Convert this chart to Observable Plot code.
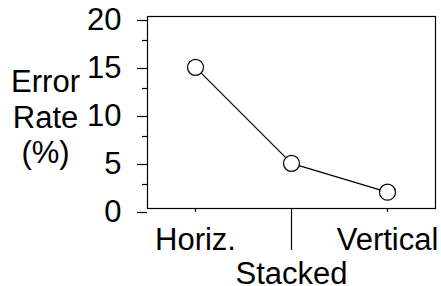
<!DOCTYPE html>
<html>
<head>
<meta charset="utf-8">
<script src="https://cdn.jsdelivr.net/npm/d3@7"></script>
<script src="https://cdn.jsdelivr.net/npm/@observablehq/plot@0.6"></script>
<style>
  html, body { margin: 0; padding: 0; background: white; }
</style>
</head>
<body>
<div id="chart"></div>
<script>
const categories = ["Horiz.", "Stacked", "Vertical"];
const errorRates = [14.7, 4.7, 1.7];
const yTicks = [0, 5, 10, 15, 20];
const yMinorTicks = [2.5, 7.5, 12.5, 17.5];
const yLabel = "Error\nRate\n(%)";

const data = categories.map((c, i) => ({category: c, rate: errorRates[i]}));
const FONT = "Liberation Sans, Arial, Helvetica, sans-serif";
const FS = 31;

const chart = Plot.plot({
  width: 441,
  height: 286,
  marginLeft: 147,
  marginRight: 6,
  marginTop: 16,
  marginBottom: 78,
  style: {fontFamily: FONT, fontSize: FS + "px", color: "black", background: "white"},
  x: {type: "point", domain: categories, padding: 0.5},
  y: {domain: [0, 20]},
  marks: [
    Plot.frame({stroke: "black", strokeWidth: 1.2}),
    Plot.axisY({ticks: yTicks, tickSize: 10, tickPadding: 16, dy: 4, fontSize: FS, label: null, stroke: "black", strokeOpacity: 1, strokeWidth: 1.2}),
    Plot.axisY({ticks: yMinorTicks, tickSize: 5, text: null, label: null, stroke: "black", strokeOpacity: 1, strokeWidth: 1.2}),
    Plot.axisX({ticks: ["Horiz.", "Vertical"], tickSize: 4, tickPadding: 15, fontSize: FS, label: null, stroke: "black", strokeOpacity: 1, strokeWidth: 1.2}),
    Plot.axisX({ticks: ["Stacked"], tickSize: 42, tickPadding: 11, fontSize: FS, label: null, stroke: "black", strokeOpacity: 1, strokeWidth: 1.2}),
    Plot.text([yLabel], {frameAnchor: "left", dx: -102, dy: 4, text: d => d, textAnchor: "middle", lineAnchor: "middle", lineHeight: 1.14, fontSize: FS, fill: "black"}),
    Plot.line(data, {x: "category", y: "rate", stroke: "black", strokeWidth: 1.2}),
    Plot.dot(data, {x: "category", y: "rate", r: 8, fill: "white", stroke: "black", strokeWidth: 1.2})
  ]
});
document.getElementById("chart").appendChild(chart);
</script>
</body>
</html>
